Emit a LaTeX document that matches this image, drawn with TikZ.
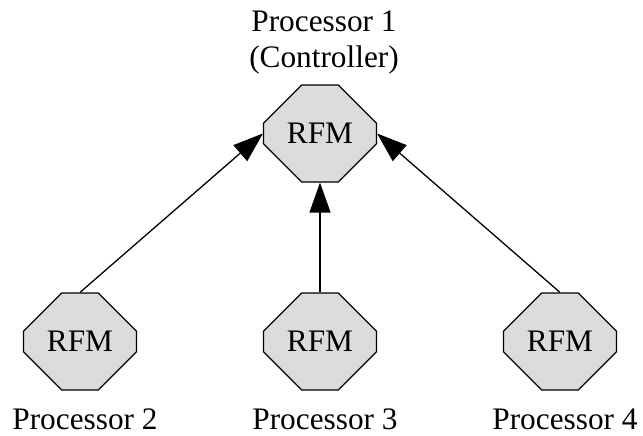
\documentclass[tikz,border=0pt]{standalone}
\usepackage{fontspec}
\setmainfont{Liberation Serif}
\usetikzlibrary{shapes.misc,arrows.meta}
\definecolor{octfill}{RGB}{220,220,220}
\tikzset{
  oct/.style={chamfered rectangle, chamfered rectangle angle=45,
    chamfered rectangle sep=28pt, minimum width=113pt, minimum height=97pt,
    inner sep=0pt, draw=black, line width=1.2pt, fill=octfill,
    font=\fontsize{31.3}{36}\selectfont},
  lbl/.style={anchor=base, inner sep=0pt, align=center,
    font=\fontsize{31.3}{36}\selectfont},
  link/.style={line width=1.3pt, -{Triangle[length=30pt,width=21pt]}}
}
\begin{document}
\begin{tikzpicture}[x=1pt,y=-1pt]
\useasboundingbox (0,0) rectangle (643,436);
\node[oct] (p1) at (320,133.5) {RFM};
\node[oct] (p2) at (80,341.5) {RFM};
\node[oct] (p3) at (320,341.5) {RFM};
\node[oct] (p4) at (560,341.5) {RFM};
\node[lbl] (l1) at (324,68) {Processor 1\\(Controller)};
\node[lbl] (l2) at (85,429) {Processor 2};
\node[lbl] (l3) at (325,429) {Processor 3};
\node[lbl] (l4) at (565,429) {Processor 4};
\draw[link] (p2.north) -- (p1.west);
\draw[link] (p3.north) -- (p1.south);
\draw[link] (p4.north) -- (p1.east);
\end{tikzpicture}
\end{document}
